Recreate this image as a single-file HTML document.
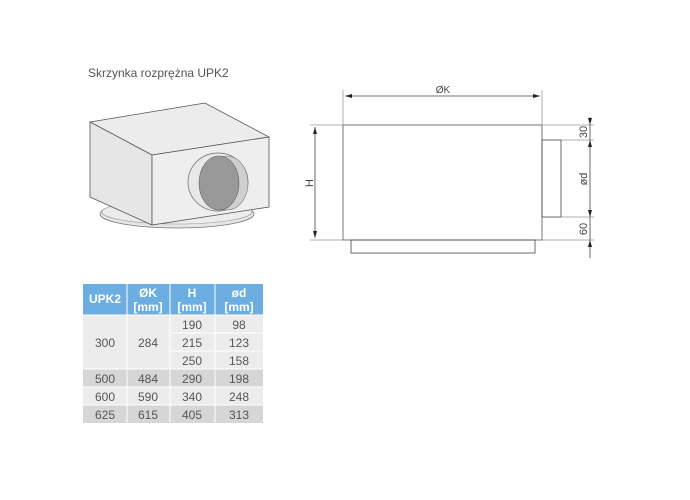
<!DOCTYPE html>
<html><head><meta charset="utf-8"><style>
body{margin:0;width:690px;height:500px;background:#fff;overflow:hidden;font-family:"Liberation Sans",sans-serif;}
svg{position:absolute;left:0;top:0}
</style></head><body>
<svg width="690" height="500" viewBox="0 0 690 500" font-family="Liberation Sans, sans-serif">
<text x="88" y="77" font-size="12" fill="#555">Skrzynka rozprężna UPK2</text>
<!-- 3D box -->
<ellipse cx="177" cy="214" rx="77" ry="14" fill="#e6e6e6" stroke="#777" stroke-width="0.8"/>
<ellipse cx="177" cy="212" rx="75" ry="12" fill="#ececec" stroke="#999" stroke-width="0.6"/>
<polygon points="90,122 205,103 269,137 152,155" fill="#ececec" stroke="#555" stroke-width="0.8"/>
<polygon points="90,122 152,155 152,225 90,197" fill="#e6e6e6" stroke="#555" stroke-width="0.8"/>
<polygon points="152,155 269,137 269,207 152,225" fill="#eeeeee" stroke="#555" stroke-width="0.8"/>
<ellipse cx="218" cy="182" rx="30" ry="29" fill="#e8e8e8" stroke="#666" stroke-width="0.7"/>
<ellipse cx="227" cy="183" rx="21" ry="27" fill="#cfcfcf" stroke="#777" stroke-width="0.6"/>
<ellipse cx="219" cy="183" rx="20" ry="27" fill="#999" stroke="#666" stroke-width="0.6"/>
<!-- drawing -->
<g stroke="#444" stroke-width="0.8" fill="none">
<rect x="343" y="125" width="199" height="115" stroke="#555"/>
<rect x="351" y="240" width="184" height="13"/>
<rect x="542" y="140" width="19" height="77"/>
<line x1="343" y1="90" x2="343" y2="125" stroke="#999"/>
<line x1="542" y1="90" x2="542" y2="125" stroke="#999"/>
<line x1="345" y1="96" x2="540" y2="96"/>
<line x1="310" y1="125" x2="343" y2="125" stroke="#999"/>
<line x1="310" y1="240" x2="343" y2="240" stroke="#999"/>
<line x1="315" y1="127" x2="315" y2="238"/>
<line x1="542" y1="125" x2="594" y2="125" stroke="#999"/>
<line x1="561" y1="140" x2="594" y2="140" stroke="#999"/>
<line x1="561" y1="217" x2="594" y2="217" stroke="#999"/>
<line x1="542" y1="240" x2="594" y2="240" stroke="#999"/>
<line x1="590" y1="117" x2="590" y2="258"/>
</g>
<g fill="#222">
<polygon points="345,96 352,94 352,98"/><polygon points="540,96 533,94 533,98"/>
<polygon points="315,127 313,134 317,134"/><polygon points="315,238 313,231 317,231"/>
<polygon points="590,125 588,118 592,118"/><polygon points="590,140 588,147 592,147"/>
<polygon points="590,217 588,210 592,210"/><polygon points="590,240 588,247 592,247"/>
</g>
<text x="443" y="93" font-size="10" text-anchor="middle" fill="#444">ØK</text>
<text transform="translate(313,183) rotate(-90)" font-size="11" text-anchor="middle" fill="#444">H</text>
<text transform="translate(587,132) rotate(-90)" font-size="11" text-anchor="middle" fill="#444">30</text>
<text transform="translate(587,179) rotate(-90)" font-size="11" text-anchor="middle" fill="#444">ød</text>
<text transform="translate(587,229) rotate(-90)" font-size="11" text-anchor="middle" fill="#444">60</text>
<!-- table -->
<rect x="83" y="284" width="180" height="31" fill="#6daee2"/>
<g fill="#fff" font-weight="bold" font-size="12" text-anchor="middle">
<text x="105" y="303">UPK2</text>
<text x="148" y="297">ØK</text><text x="148" y="311">[mm]</text>
<text x="192" y="297">H</text><text x="192" y="311">[mm]</text>
<text x="239" y="297">ød</text><text x="239" y="311">[mm]</text>
</g>
<rect x="83" y="315" width="180" height="54" fill="#ececec"/>
<rect x="83" y="369" width="180" height="18" fill="#d6d6d6"/>
<rect x="83" y="387" width="180" height="18" fill="#ececec"/>
<rect x="83" y="405" width="180" height="18" fill="#d6d6d6"/>
<g stroke="#fff" stroke-width="1">
<line x1="127" y1="284" x2="127" y2="423"/><line x1="170" y1="284" x2="170" y2="423"/><line x1="215" y1="284" x2="215" y2="423"/>
<line x1="170" y1="333" x2="263" y2="333"/><line x1="170" y1="351" x2="263" y2="351"/>
<line x1="83" y1="369" x2="263" y2="369"/><line x1="83" y1="387" x2="263" y2="387"/><line x1="83" y1="405" x2="263" y2="405"/>
<line x1="83" y1="315" x2="263" y2="315"/>
</g>
<g fill="#555" font-size="12" text-anchor="middle">
<text x="105" y="347">300</text><text x="148" y="347">284</text>
<text x="192" y="329">190</text><text x="239" y="329">98</text>
<text x="192" y="347">215</text><text x="239" y="347">123</text>
<text x="192" y="365">250</text><text x="239" y="365">158</text>
<text x="105" y="383">500</text><text x="148" y="383">484</text><text x="192" y="383">290</text><text x="239" y="383">198</text>
<text x="105" y="401">600</text><text x="148" y="401">590</text><text x="192" y="401">340</text><text x="239" y="401">248</text>
<text x="105" y="419">625</text><text x="148" y="419">615</text><text x="192" y="419">405</text><text x="239" y="419">313</text>
</g>
</svg>
</body></html>
